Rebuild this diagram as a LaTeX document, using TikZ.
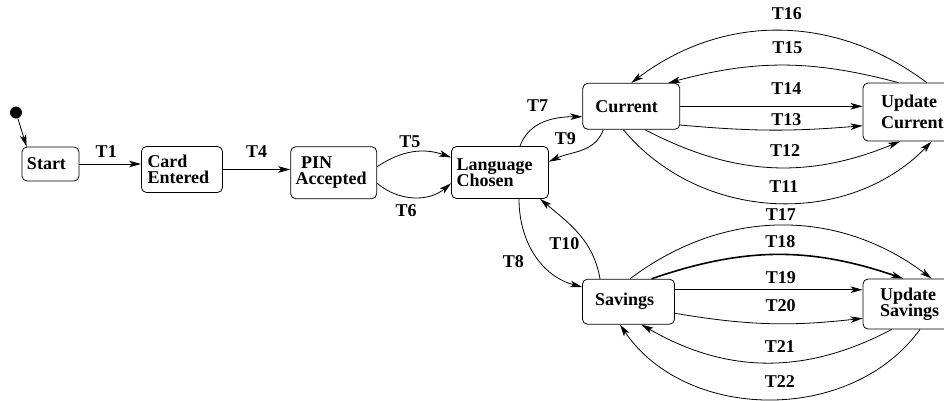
\documentclass[tikz,border=0pt]{standalone}
\usepackage{fontspec}
\setmainfont{Liberation Serif}
\usetikzlibrary{arrows.meta}

\begin{document}
\begin{tikzpicture}
  [x=1pt, y=-1pt, line width=0.8pt,
   every node/.style={font=\bfseries\fontsize{18}{16.5}\selectfont},
   state/.style={draw, rectangle, rounded corners=5pt, align=left, inner sep=0pt},
   lbl/.style={inner sep=0pt},
   >={Stealth[length=12pt,width=6.5pt,inset=3pt]}]
  \useasboundingbox (0,0) rectangle (944,400);

  \node [circle, fill, inner sep=0pt, minimum size=12pt] (init) at (16,112.5) {};

  \node [state, minimum width=57pt, minimum height=34pt, text width=47pt] (start) at (50.5,164) {Start};
  \node [state, minimum width=81pt, minimum height=46pt, text width=69pt] (card)  at (182,169.5) {Card\\Entered};
  \node [state, minimum width=86pt, minimum height=52pt, text width=76pt] (pin)   at (333.7,172.7) {\hspace*{5.5pt}PIN\\Accepted};
  \node [state, minimum width=97pt, minimum height=52pt, text width=87pt] (lang)  at (500,172.5) {Language\\Chosen};
  \node [state, minimum width=97pt, minimum height=46pt, text width=72pt] (cur)   at (631.3,106.3) {Current};
  \node [state, minimum width=100pt, minimum height=58pt, text width=64pt] (ucur) at (913,112) {Update\\[5pt]Current};
  \node [state, minimum width=92pt, minimum height=45pt, text width=67pt] (sav)   at (628.5,301.7) {Savings};
  \node [state, minimum width=94pt, minimum height=50pt, text width=60pt] (usav)  at (910,304) {Update\\Savings};

  % entry
  \draw [->] (init) -- ([xshift=5pt]start.north west);
  \draw [->] (start.east) -- (start.east -| card.west) node [lbl, midway, above=6pt, xshift=-4pt] {T1};
  \draw [->] (card.east) -- (card.east -| pin.west) node [lbl, midway, above=12pt] {T4};
  \draw [->] ([yshift=6pt]pin.east) to [bend left=27] node [lbl, midway, above=4pt, xshift=-3pt] {T5} ([yshift=15pt]lang.west);
  \draw [->] ([yshift=-10.6pt]pin.east) to [bend right=40] node [lbl, midway, below=7pt, xshift=-8pt] {T6} ([yshift=-10.8pt]lang.west);

  % language to accounts
  \draw [->] ([xshift=20pt]lang.north) to [out=70, in=180] node [lbl, midway, above=10pt, xshift=-7pt] {T7} ([yshift=-10.4pt]cur.west);
  \draw [->] ([xshift=-28pt]cur.south) to [out=-110, in=25] node [lbl, midway, above=5pt, xshift=-16pt] {T9} ([yshift=10.8pt]lang.east);
  \draw [->] ([xshift=19pt]lang.south) to [out=-90, in=165] node [lbl, midway, left=11pt, yshift=-7pt] {T8} ([yshift=14.7pt]sav.west);
  \draw [->] ([xshift=-28.5pt]sav.north) to [out=100, in=-40] node [lbl, midway, left=1pt, yshift=-9.5pt, xshift=2pt] {T10} ([xshift=40pt]lang.south);

  % current account
  \draw [->] (cur.east) -- (cur.east -| ucur.west) node [lbl, midway, above=11pt, xshift=15pt] {T14};
  \draw [->] ([yshift=-18.7pt]cur.east) to [bend right=5] node [lbl, midway, above=4pt, xshift=15pt] {T13} ([yshift=-13.7pt]ucur.west);
  \draw [->] ([xshift=13.7pt]cur.south) to [bend right=25] node [lbl, midway, above=10pt, xshift=14pt] {T12} ([xshift=-13pt]ucur.south);
  \draw [->] ([xshift=-8pt]cur.south) to [bend right=48] node [lbl, midway, above=10pt, xshift=9pt] {T11} ([xshift=18.7pt]ucur.south);
  \draw [->] ([xshift=-14.7pt]ucur.north) to [bend right=15] node [lbl, midway, above=11pt, xshift=4pt] {T15} ([xshift=37pt]cur.north);
  \draw [->] ([xshift=13.7pt]ucur.north) to [bend right=37] node [lbl, midway, above=11pt, xshift=8pt] {T16} (cur.north);

  % savings account
  \coordinate (s19) at ([yshift=12pt]sav.east);
  \draw [->] ([xshift=1.5pt]sav.north) to [bend left=37] node [lbl, midway, above=5pt] {T17} ([xshift=21.7pt]usav.north);
  \draw [->, line width=1.6pt] ([xshift=23pt]sav.north) to [bend left=19] node [lbl, midway, above=6pt, xshift=3pt] {T18} ([xshift=-6.7pt]usav.north);
  \draw [->] (s19) -- (s19 -| usav.west) node [lbl, midway, above=6pt, xshift=12pt] {T19};
  \draw [->] ([yshift=-11.6pt]sav.east) to [bend right=8] node [lbl, midway, above=11pt, xshift=12pt] {T20} ([yshift=-14.3pt]usav.west);
  \draw [->] ([xshift=-18.3pt]usav.south) to [bend left=29] node [lbl, midway, above=10pt, xshift=14pt] {T21} ([xshift=13pt]sav.south);
  \draw [->] ([xshift=10pt]usav.south) to [bend left=55] node [lbl, midway, above=11pt, xshift=11pt] {T22} ([xshift=-8.5pt]sav.south);
\end{tikzpicture}
\end{document}
